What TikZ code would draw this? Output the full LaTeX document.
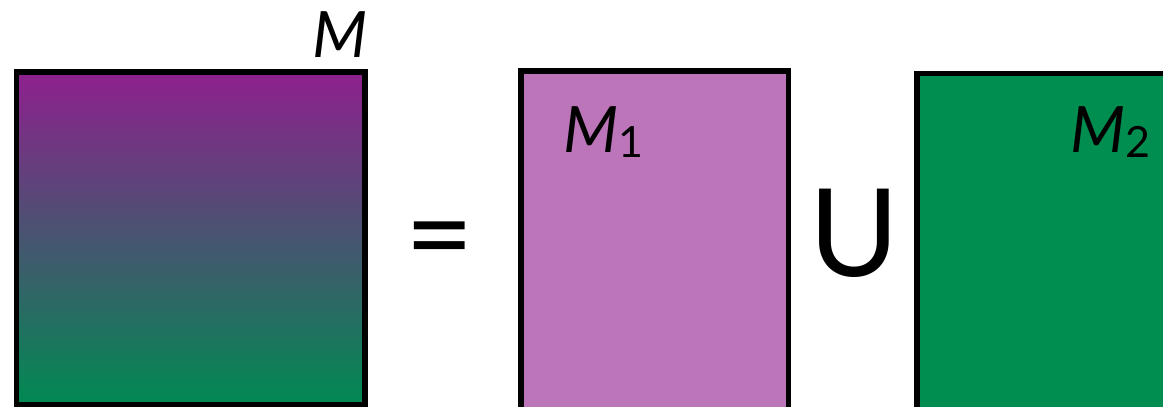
\documentclass[tikz,border=0pt]{standalone}
\usepackage{fontspec}
\setmainfont{Lato}
\definecolor{gradtop}{RGB}{142,32,142}
\definecolor{gradbot}{RGB}{0,138,82}
\definecolor{pinkbox}{RGB}{188,117,185}
\definecolor{greenbox}{RGB}{0,142,80}
\tikzset{
  matbox/.style={draw=black, line width=5.5pt, rectangle, inner sep=0pt, outer sep=0pt},
  lbl/.style={inner sep=0pt, outer sep=0pt, anchor=base west, text=black},
}
\newcommand{\bigM}{\fontsize{64}{64}\selectfont\itshape M}
\newcommand{\subd}[1]{\raisebox{-5pt}{\fontsize{43}{43}\selectfont\upshape #1}}
\begin{document}
\begin{tikzpicture}[x=1pt,y=1pt]
\useasboundingbox (0,0) rectangle (1163,407);
\begin{scope}
\clip (0,0) rectangle (1163,407);
\node[matbox, top color=gradtop, bottom color=gradbot, minimum width=348.5pt, minimum height=333pt] (m) at (190.75,168.5) {};
\node[matbox, fill=pinkbox, minimum width=267.5pt, minimum height=341pt] (m1) at (654.75,165.5) {};
\node[matbox, fill=greenbox, minimum width=258pt, minimum height=338.5pt] (m2) at (1046,164.25) {};
\end{scope}
\node[lbl] (lm) at (312,349) {\bigM};
\node[lbl] (lm1) at (563,254) {\bigM\subd{1}};
\node[lbl] (lm2) at (1070,254) {\bigM\subd{2}};
\node[inner sep=0pt] (eq) at (440,158.5) {\fontsize{118}{118}\selectfont =};
\node[lbl, anchor=base] (un) at (854,130) {\fontsize{122}{122}\selectfont U};
\end{tikzpicture}
\end{document}
